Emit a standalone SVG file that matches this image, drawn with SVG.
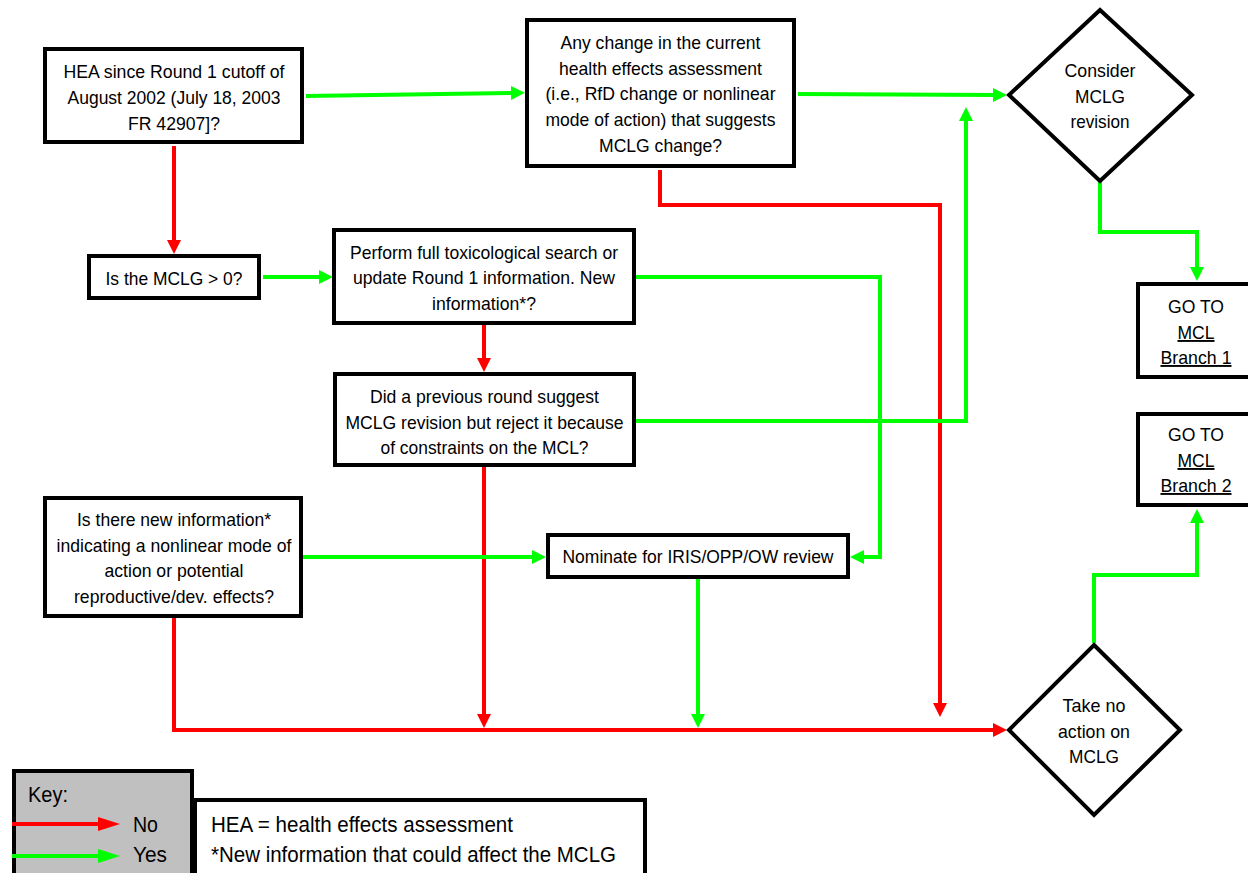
<svg xmlns="http://www.w3.org/2000/svg" width="1248" height="873" viewBox="0 0 1248 873">
<style>
.box{fill:#fff;stroke:#000;stroke-width:4}
.t{font-family:"Liberation Sans",Arial,sans-serif;font-size:19px;fill:#000;text-anchor:middle}
.lg{font-family:"Liberation Sans",Arial,sans-serif;font-size:22px;fill:#000}
.r{fill:none;stroke:#ff0000;stroke-width:4}
.g{fill:none;stroke:#00ff00;stroke-width:4}
.u{text-decoration:underline}
</style>
<defs>
<marker id="ar" markerUnits="userSpaceOnUse" markerWidth="14" markerHeight="14" refX="2" refY="7" orient="auto"><path d="M0,0L14,7L0,14z" fill="#ff0000"/></marker>
<marker id="ag" markerUnits="userSpaceOnUse" markerWidth="14" markerHeight="14" refX="2" refY="7" orient="auto"><path d="M0,0L14,7L0,14z" fill="#00ff00"/></marker>
<marker id="lr" markerUnits="userSpaceOnUse" markerWidth="22" markerHeight="14" refX="2" refY="7" orient="auto"><path d="M0,0L22,7L0,14z" fill="#ff0000"/></marker>
<marker id="lgm" markerUnits="userSpaceOnUse" markerWidth="22" markerHeight="14" refX="2" refY="7" orient="auto"><path d="M0,0L22,7L0,14z" fill="#00ff00"/></marker>
</defs>
<rect width="1248" height="873" fill="#fff"/>
<g id="connectors">
<path class="r" d="M174,146V242" marker-end="url(#ar)"/>
<path class="g" d="M263,277H321" marker-end="url(#ag)"/>
<path class="g" d="M306,96L513,93" marker-end="url(#ag)"/>
<path class="g" d="M798,94L995,95" marker-end="url(#ag)"/>
<path class="r" d="M660,170V205H940V705" marker-end="url(#ar)"/>
<path class="g" d="M636,277H880V557H862" marker-end="url(#ag)"/>
<path class="r" d="M484,325V360" marker-end="url(#ar)"/>
<path class="g" d="M636,421H966V119" marker-end="url(#ag)"/>
<path class="r" d="M484,467V716" marker-end="url(#ar)"/>
<path class="r" d="M174,618V730H995" marker-end="url(#ar)"/>
<path class="g" d="M303,557H534" marker-end="url(#ag)"/>
<path class="g" d="M698,579V716" marker-end="url(#ag)"/>
<path class="g" d="M1100,182V232H1197V269" marker-end="url(#ag)"/>
<path class="g" d="M1094,643V575H1197V521" marker-end="url(#ag)"/>
</g>
<g id="n-hea">
<rect class="box" x="45" y="49" width="257" height="93"/>
<text class="t" x="174" y="78" textLength="221" lengthAdjust="spacingAndGlyphs">HEA since Round 1 cutoff of</text>
<text class="t" x="174" y="104" textLength="213" lengthAdjust="spacingAndGlyphs">August 2002 (July 18, 2003</text>
<text class="t" x="174" y="130" textLength="92" lengthAdjust="spacingAndGlyphs">FR 42907]?</text>
</g>
<g id="n-mclg0">
<rect class="box" x="89" y="256" width="170" height="42"/>
<text class="t" x="174" y="285" textLength="137" lengthAdjust="spacingAndGlyphs">Is the MCLG &gt; 0?</text>
</g>
<g id="n-change">
<rect class="box" x="527" y="20" width="267" height="146"/>
<text class="t" x="660.5" y="49" textLength="200" lengthAdjust="spacingAndGlyphs">Any change in the current</text>
<text class="t" x="660.5" y="75" textLength="203" lengthAdjust="spacingAndGlyphs">health effects assessment</text>
<text class="t" x="660.5" y="100" textLength="230" lengthAdjust="spacingAndGlyphs">(i.e., RfD change or nonlinear</text>
<text class="t" x="660.5" y="126" textLength="230" lengthAdjust="spacingAndGlyphs">mode of action) that suggests</text>
<text class="t" x="660.5" y="152" textLength="123" lengthAdjust="spacingAndGlyphs">MCLG change?</text>
</g>
<g id="n-search">
<rect class="box" x="334" y="230" width="300" height="93"/>
<text class="t" x="484" y="259" textLength="268" lengthAdjust="spacingAndGlyphs">Perform full toxicological search or</text>
<text class="t" x="484" y="284" textLength="262" lengthAdjust="spacingAndGlyphs">update Round 1 information. New</text>
<text class="t" x="484" y="310" textLength="104" lengthAdjust="spacingAndGlyphs">information*?</text>
</g>
<g id="n-previous">
<rect class="box" x="335" y="374" width="299" height="91"/>
<text class="t" x="484.5" y="403" textLength="229" lengthAdjust="spacingAndGlyphs">Did a previous round suggest</text>
<text class="t" x="484.5" y="429" textLength="278" lengthAdjust="spacingAndGlyphs">MCLG revision but reject it because</text>
<text class="t" x="484.5" y="454" textLength="208" lengthAdjust="spacingAndGlyphs">of constraints on the MCL?</text>
</g>
<g id="n-newinfo">
<rect class="box" x="45" y="498" width="256" height="118"/>
<text class="t" x="174" y="526" textLength="194" lengthAdjust="spacingAndGlyphs">Is there new information*</text>
<text class="t" x="174" y="552" textLength="235" lengthAdjust="spacingAndGlyphs">indicating a nonlinear mode of</text>
<text class="t" x="174" y="577" textLength="139" lengthAdjust="spacingAndGlyphs">action or potential</text>
<text class="t" x="174" y="603" textLength="200" lengthAdjust="spacingAndGlyphs">reproductive/dev. effects?</text>
</g>
<g id="n-nominate">
<rect class="box" x="548" y="535" width="300" height="42"/>
<text class="t" x="698" y="563" textLength="271" lengthAdjust="spacingAndGlyphs">Nominate for IRIS/OPP/OW review</text>
</g>
<g id="n-consider">
<polygon class="box" points="1100,10 1192,95 1100,181 1009,95"/>
<text class="t" x="1100" y="77" textLength="71" lengthAdjust="spacingAndGlyphs">Consider</text>
<text class="t" x="1100" y="103" textLength="50" lengthAdjust="spacingAndGlyphs">MCLG</text>
<text class="t" x="1100" y="128" textLength="59" lengthAdjust="spacingAndGlyphs">revision</text>
</g>
<g id="n-noaction">
<polygon class="box" points="1094,645 1180,730 1094,815 1009,730"/>
<text class="t" x="1094" y="712" textLength="63" lengthAdjust="spacingAndGlyphs">Take no</text>
<text class="t" x="1094" y="738" textLength="72" lengthAdjust="spacingAndGlyphs">action on</text>
<text class="t" x="1094" y="763" textLength="50" lengthAdjust="spacingAndGlyphs">MCLG</text>
</g>
<g id="n-branch1">
<rect class="box" x="1138" y="284" width="120" height="93"/>
<text class="t" x="1196" y="313" textLength="56" lengthAdjust="spacingAndGlyphs">GO TO</text>
<text class="t u" x="1196" y="339" textLength="37" lengthAdjust="spacingAndGlyphs">MCL</text>
<text class="t u" x="1196" y="364" textLength="71" lengthAdjust="spacingAndGlyphs">Branch 1</text>
</g>
<g id="n-branch2">
<rect class="box" x="1138" y="414" width="120" height="91"/>
<text class="t" x="1196" y="441" textLength="56" lengthAdjust="spacingAndGlyphs">GO TO</text>
<text class="t u" x="1196" y="467" textLength="37" lengthAdjust="spacingAndGlyphs">MCL</text>
<text class="t u" x="1196" y="492" textLength="71" lengthAdjust="spacingAndGlyphs">Branch 2</text>
</g>
<g id="key">
<rect x="14" y="771" width="178" height="120" fill="#c0c0c0" stroke="#000" stroke-width="4"/>
<text class="lg" x="28" y="802" textLength="40" lengthAdjust="spacingAndGlyphs">Key:</text>
<path class="r" d="M12,824H100" marker-end="url(#lr)"/>
<text class="lg" x="133" y="832" textLength="25" lengthAdjust="spacingAndGlyphs">No</text>
<path class="g" d="M12,856H100" marker-end="url(#lgm)"/>
<text class="lg" x="133" y="862" textLength="34" lengthAdjust="spacingAndGlyphs">Yes</text>
</g>
<g id="notes">
<rect x="195" y="800" width="450" height="100" fill="#fff" stroke="#000" stroke-width="4"/>
<text class="lg" x="211" y="832" textLength="302" lengthAdjust="spacingAndGlyphs">HEA = health effects assessment</text>
<text class="lg" x="211" y="862" textLength="405" lengthAdjust="spacingAndGlyphs">*New information that could affect the MCLG</text>
</g>
</svg>
